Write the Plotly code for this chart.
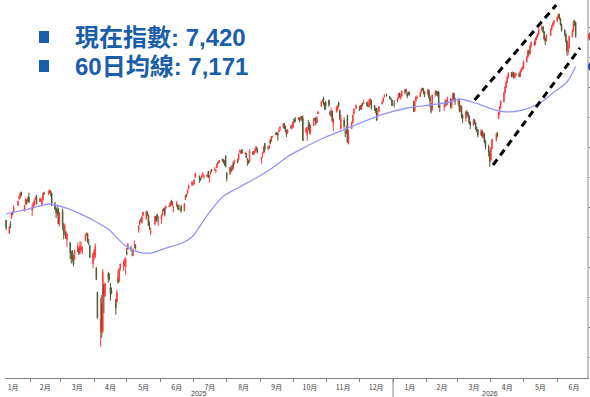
import pandas as pd
import plotly.graph_objects as go

# ---- daily index candles (trading days from 2025-01-10) ----
opens = [
    # 2025-01
    5890, 5782, 5859, 5905, 5950, 5963, 6015, 6068, 6076, 6121, 5970, 6026, 6057, 6050, 6082,
    # 2025-02
    5969, 5990, 6021, 6072, 6083, 6046, 6050, 6020, 6060, 6116, 6121, 6118, 6134, 6115, 6026, 5983, 5971, 5981, 5856,
    # 2025-03
    5969, 5812, 5782, 5787, 5727, 5705, 5604, 5624, 5595, 5563, 5627, 5655, 5615, 5646, 5630, 5718, 5772, 5781, 5695, 5679, 5528,
    # 2025-04
    5597, 5581, 5492, 5292, 4953, 5193, 4966, 5353, 5256, 5441, 5412, 5335, 5306, 5232, 5207, 5410, 5382, 5489, 5529, 5508, 5499,
    # 2025-05
    5626, 5645, 5655, 5607, 5621, 5663, 5680, 5807, 5854, 5895, 5870, 5929, 5902, 5958, 5928, 5842, 5782, 5854, 5918, 5939, 5903,
    # 2025-06
    5897, 5938, 5979, 5985, 5987, 6005, 6009, 6049, 6010, 5962, 6005, 6012, 5985, 6004, 5970, 6062, 6104, 6112, 6151, 6193,
    # 2025-07
    6187, 6193, 6247, 6257, 6240, 6247, 6270, 6256, 6255, 6296, 6250, 6272, 6313, 6305, 6306, 6326, 6369, 6371, 6398, 6394, 6377, 6427,
    # 2025-08
    6286, 6272, 6330, 6309, 6370, 6359, 6390, 6398, 6460, 6451, 6478, 6446, 6445, 6403, 6390, 6381, 6455, 6437, 6455, 6486, 6490,
    # 2025-09
    6401, 6445, 6456, 6530, 6499, 6498, 6561, 6546, 6582, 6603, 6620, 6612, 6626, 6657, 6662, 6695, 6674, 6637, 6614, 6666, 6658,
    # 2025-10
    6670, 6732, 6722, 6735, 6743, 6731, 6754, 6740, 6620, 6597, 6678, 6690, 6624, 6676, 6736, 6741, 6701, 6775, 6839, 6882, 6904, 6867, 6878,
    # 2025-11
    6890, 6786, 6756, 6801, 6690, 6790, 6809, 6870, 6807, 6656, 6722, 6628, 6619, 6760, 6539, 6653, 6701, 6773, 6822,
    # 2025-12
    6813, 6830, 6815, 6866, 6866, 6873, 6844, 6840, 6867, 6889, 6846, 6812, 6823, 6775, 6800, 6858, 6878, 6918, 6932, 6920, 6905, 6892,
    # 2026-01
    6860, 6880, 6904, 6950, 6910, 6925, 6950, 6975, 6950, 6950, 6955, 6880, 6800, 6885, 6910, 6920, 6955, 6985, 6980, 6960,
    # 2026-02
    6945, 6970, 6915, 6860, 6810, 6930, 6960, 6950, 6960, 6840, 6840, 6845, 6880, 6860, 6900, 6840, 6895, 6945, 6905,
    # 2026-03
    6870, 6880, 6815, 6835, 6765, 6740, 6790, 6780, 6760, 6705, 6685, 6725, 6700, 6650, 6640, 6600, 6635, 6590, 6610, 6545, 6505, 6455,
    # 2026-04
    6390, 6490, 6560, 6610, 6740, 6780, 6830, 6880, 6950, 7000, 7040, 7080, 7115, 7090, 7120, 7080, 7100, 7115, 7090, 7130, 7150,
    # 2026-05
    7160, 7210, 7250, 7300, 7280, 7340, 7370, 7360, 7400, 7420, 7440, 7480, 7500, 7460, 7400, 7385, 7430, 7480, 7510, 7530,
    # 2026-06
    7550, 7580, 7600, 7570, 7520, 7475, 7440, 7380, 7290, 7330, 7420, 7470, 7545, 7535,
]
highs = [
    5891, 5838, 5882, 5960, 5964, 6014, 6052, 6100, 6119, 6128, 6018, 6070, 6063, 6087, 6121,
    6023, 6042, 6062, 6085, 6101, 6074, 6077, 6064, 6118, 6127, 6130, 6147, 6134, 6119, 6043, 5992, 6009, 5994, 5959,
    5987, 5866, 5860, 5802, 5783, 5706, 5636, 5642, 5597, 5645, 5704, 5656, 5716, 5711, 5670, 5776, 5787, 5784, 5733, 5685, 5620,
    5650, 5696, 5500, 5292, 5246, 5267, 5481, 5353, 5369, 5460, 5450, 5367, 5328, 5232, 5309, 5470, 5490, 5528, 5553, 5571, 5581,
    5658, 5700, 5677, 5649, 5655, 5721, 5691, 5845, 5892, 5906, 5925, 5959, 5969, 5964, 5939, 5878, 5829, 5924, 5929, 5944, 5922,
    5937, 5982, 5991, 5999, 6017, 6022, 6044, 6060, 6046, 6008, 6051, 6024, 6018, 6019, 6033, 6102, 6109, 6146, 6188, 6216,
    6210, 6228, 6285, 6263, 6242, 6270, 6290, 6266, 6271, 6302, 6264, 6300, 6316, 6336, 6316, 6360, 6381, 6390, 6402, 6397, 6389, 6428,
    6288, 6330, 6343, 6353, 6379, 6395, 6405, 6446, 6480, 6473, 6482, 6460, 6450, 6405, 6392, 6481, 6466, 6468, 6489, 6508, 6493,
    6416, 6460, 6502, 6533, 6507, 6513, 6555, 6592, 6593, 6619, 6626, 6624, 6657, 6672, 6698, 6698, 6676, 6639, 6650, 6681, 6689,
    6716, 6738, 6750, 6749, 6746, 6754, 6755, 6764, 6668, 6665, 6724, 6707, 6686, 6741, 6744, 6752, 6758, 6802, 6882, 6896, 6920, 6872, 6882,
    6894, 6804, 6828, 6801, 6741, 6838, 6849, 6879, 6810, 6775, 6746, 6653, 6677, 6771, 6643, 6714, 6768, 6826, 6850,
    6843, 6850, 6862, 6866, 6895, 6880, 6860, 6900, 6904, 6895, 6850, 6826, 6825, 6801, 6840, 6880, 6912, 6937, 6945, 6925, 6910, 6895,
    6890, 6912, 6950, 6952, 6940, 6970, 6985, 6988, 6955, 6965, 6960, 6885, 6890, 6925, 6930, 6958, 6990, 6995, 6990, 6965,
    6985, 6980, 6930, 6870, 6940, 6975, 6970, 6965, 6965, 6870, 6860, 6900, 6890, 6920, 6905, 6900, 6955, 6950, 6910,
    6905, 6890, 6850, 6845, 6775, 6800, 6810, 6790, 6765, 6715, 6735, 6730, 6705, 6670, 6650, 6650, 6640, 6625, 6615, 6560, 6520, 6470,
    6500, 6570, 6620, 6625, 6790, 6840, 6890, 6960, 7010, 7050, 7090, 7125, 7125, 7130, 7125, 7110, 7120, 7120, 7140, 7160, 7175,
    7220, 7260, 7310, 7310, 7350, 7380, 7385, 7410, 7430, 7450, 7490, 7515, 7505, 7465, 7410, 7440, 7490, 7520, 7540, 7560,
    7590, 7615, 7610, 7575, 7530, 7480, 7450, 7390, 7345, 7430, 7480, 7555, 7560, 7545,
]
lows = [
    5809, 5773, 5822, 5905, 5935, 5960, 6007, 6061, 6074, 6089, 5962, 6016, 6018, 6042, 6031,
    5924, 5990, 6007, 6061, 6020, 6044, 6042, 6003, 6052, 6100, 6099, 6111, 6089, 6009, 5977, 5908, 5932, 5858, 5837,
    5810, 5732, 5762, 5733, 5667, 5565, 5529, 5546, 5505, 5563, 5625, 5598, 5614, 5632, 5603, 5719, 5760, 5701, 5685, 5572, 5489,
    5558, 5578, 5391, 5070, 4835, 4910, 4948, 5115, 5251, 5369, 5386, 5220, 5273, 5102, 5207, 5360, 5371, 5464, 5468, 5506, 5434,
    5598, 5642, 5629, 5590, 5590, 5656, 5646, 5786, 5853, 5876, 5862, 5925, 5896, 5925, 5839, 5808, 5767, 5854, 5877, 5874, 5843,
    5861, 5929, 5966, 5921, 5987, 6000, 6003, 6014, 6003, 5963, 6003, 5982, 5971, 5953, 5964, 6060, 6081, 6108, 6148, 6174,
    6177, 6188, 6245, 6201, 6218, 6240, 6252, 6234, 6249, 6244, 6202, 6266, 6291, 6304, 6282, 6326, 6360, 6368, 6376, 6361, 6343, 6329,
    6213, 6272, 6290, 6301, 6314, 6359, 6364, 6385, 6452, 6441, 6441, 6437, 6408, 6344, 6360, 6371, 6438, 6431, 6451, 6470, 6444,
    6361, 6411, 6446, 6454, 6475, 6484, 6520, 6546, 6579, 6602, 6598, 6552, 6626, 6633, 6655, 6650, 6623, 6583, 6614, 6648, 6648,
    6661, 6698, 6706, 6725, 6705, 6732, 6716, 6551, 6620, 6552, 6640, 6610, 6604, 6676, 6720, 6681, 6701, 6775, 6839, 6870, 6852, 6807, 6812,
    6834, 6761, 6750, 6706, 6632, 6790, 6802, 6830, 6724, 6646, 6652, 6581, 6607, 6533, 6521, 6652, 6697, 6773, 6814,
    6800, 6810, 6810, 6840, 6860, 6838, 6830, 6830, 6850, 6810, 6800, 6780, 6721, 6760, 6790, 6855, 6875, 6912, 6920, 6899, 6890, 6842,
    6830, 6870, 6900, 6910, 6895, 6920, 6940, 6955, 6905, 6930, 6930, 6790, 6792, 6880, 6898, 6915, 6950, 6965, 6940, 6915,
    6930, 6900, 6830, 6780, 6800, 6920, 6930, 6920, 6825, 6790, 6800, 6830, 6845, 6850, 6820, 6820, 6880, 6895, 6850,
    6840, 6790, 6790, 6740, 6700, 6710, 6760, 6740, 6690, 6650, 6675, 6690, 6640, 6620, 6580, 6590, 6575, 6570, 6530, 6480, 6420, 6335,
    6380, 6480, 6545, 6580, 6735, 6770, 6820, 6870, 6940, 6990, 7030, 7070, 7080, 7080, 7070, 7070, 7090, 7080, 7085, 7120, 7140,
    7150, 7200, 7240, 7260, 7270, 7330, 7340, 7350, 7390, 7410, 7430, 7470, 7450, 7390, 7350, 7380, 7425, 7470, 7500, 7520,
    7540, 7570, 7560, 7510, 7460, 7420, 7370, 7260, 7265, 7320, 7410, 7460, 7510, 7410,
]
closes = [
    5827, 5836, 5843, 5950, 5937, 5997, 6049, 6086, 6119, 6101, 6012, 6068, 6039, 6071, 6041,
    5995, 6038, 6061, 6084, 6026, 6066, 6069, 6052, 6115, 6115, 6130, 6144, 6118, 6013, 5983, 5955, 5956, 5862, 5955,
    5850, 5778, 5843, 5739, 5770, 5615, 5572, 5599, 5522, 5639, 5675, 5615, 5675, 5663, 5668, 5768, 5777, 5712, 5693, 5581, 5612,
    5633, 5671, 5397, 5074, 5062, 4983, 5457, 5268, 5363, 5406, 5397, 5276, 5283, 5158, 5288, 5376, 5485, 5525, 5529, 5561, 5569,
    5604, 5687, 5650, 5607, 5631, 5664, 5660, 5844, 5887, 5893, 5917, 5958, 5964, 5940, 5845, 5842, 5803, 5922, 5889, 5912, 5912,
    5936, 5970, 5971, 5939, 6000, 6006, 6039, 6022, 6045, 5977, 6033, 5983, 5981, 5968, 6025, 6092, 6092, 6141, 6173, 6205,
    6198, 6227, 6279, 6230, 6226, 6263, 6280, 6260, 6269, 6244, 6264, 6297, 6297, 6306, 6310, 6359, 6363, 6389, 6390, 6371, 6363, 6339,
    6238, 6330, 6299, 6345, 6340, 6389, 6373, 6446, 6467, 6469, 6450, 6449, 6411, 6396, 6370, 6467, 6439, 6466, 6481, 6502, 6460,
    6416, 6448, 6502, 6482, 6495, 6513, 6532, 6587, 6584, 6615, 6607, 6600, 6632, 6664, 6694, 6657, 6638, 6605, 6644, 6661, 6688,
    6711, 6715, 6716, 6740, 6715, 6754, 6735, 6553, 6655, 6644, 6671, 6629, 6664, 6735, 6735, 6699, 6738, 6792, 6875, 6891, 6891, 6822, 6840,
    6852, 6772, 6796, 6720, 6729, 6832, 6847, 6851, 6737, 6734, 6672, 6617, 6642, 6539, 6603, 6705, 6766, 6813, 6849,
    6812, 6829, 6850, 6857, 6870, 6846, 6840, 6887, 6901, 6827, 6816, 6800, 6721, 6775, 6835, 6878, 6910, 6932, 6930, 6906, 6896, 6845,
    6858, 6902, 6944, 6920, 6921, 6966, 6977, 6963, 6926, 6944, 6940, 6797, 6876, 6913, 6916, 6950, 6979, 6978, 6969, 6939,
    6976, 6917, 6883, 6798, 6932, 6964, 6942, 6941, 6833, 6836, 6843, 6881, 6861, 6910, 6837, 6890, 6946, 6908, 6878,
    6885, 6810, 6840, 6760, 6735, 6790, 6780, 6760, 6700, 6680, 6720, 6700, 6650, 6640, 6600, 6630, 6590, 6610, 6540, 6500, 6460, 6380,
    6490, 6560, 6610, 6600, 6780, 6830, 6880, 6950, 7000, 7040, 7080, 7110, 7090, 7120, 7080, 7100, 7110, 7090, 7130, 7150, 7160,
    7210, 7250, 7300, 7280, 7340, 7370, 7360, 7400, 7420, 7440, 7480, 7500, 7460, 7400, 7380, 7430, 7480, 7510, 7530, 7550,
    7580, 7600, 7570, 7520, 7470, 7440, 7380, 7300, 7330, 7420, 7470, 7540, 7530, 7420,
]
market_holidays = [
    "2025-01-20", "2025-02-17", "2025-04-18", "2025-05-26", "2025-06-19", "2025-07-04",
    "2025-09-01", "2025-11-27", "2025-12-25", "2026-01-01", "2026-01-19", "2026-02-16",
    "2026-04-03", "2026-05-25", "2026-06-19",
]

# ---- 60-day moving average ----
ma_dates = [
    "2025-01-10", "2025-01-30", "2025-02-19", "2025-03-06", "2025-03-20", "2025-04-03",
    "2025-04-15", "2025-04-30", "2025-05-15", "2025-05-24", "2025-06-06", "2025-06-21",
    "2025-06-30", "2025-07-13", "2025-07-28", "2025-08-13", "2025-08-28", "2025-09-12",
    "2025-09-26", "2025-10-08", "2025-10-29", "2025-11-23", "2025-12-21", "2026-01-14",
    "2026-02-04", "2026-02-22", "2026-03-03", "2026-03-15", "2026-03-28", "2026-04-09",
    "2026-04-16", "2026-04-30", "2026-05-16", "2026-05-28", "2026-06-10", "2026-06-18",
]
ma60 = [
    5942, 5983, 6025, 5992, 5940, 5875,
    5808, 5675, 5617, 5617, 5658, 5700,
    5750, 5917, 6083, 6167, 6242, 6325,
    6420, 6480, 6575, 6667, 6767, 6825,
    6850, 6875, 6900, 6875, 6833, 6800,
    6792, 6808, 6867, 6950, 7042, 7171,
]

# ---- trend channel ----
upper_dates = ["2026-03-17", "2026-05-31"]
upper_vals = [6892, 7683]
lower_dates = ["2026-04-03", "2026-06-22"]
lower_vals = [6350, 7325]

UP = "#ff3a3a"
DOWN = "#4f5a32"
BLUE = "#1a5da8"

dates = pd.bdate_range("2025-01-10", periods=len(closes), freq="C", holidays=market_holidays)

# plot area in pixels: x 5..587, y 0..378
PL, PR, PB = 5, 587, 378


def px_x(p):
    return (p - PL) / (PR - PL)


def px_y(p):
    return (PB - p) / PB


fig = go.Figure()
fig.add_trace(go.Candlestick(
    x=dates, open=opens, high=highs, low=lows, close=closes,
    increasing=dict(line=dict(color=UP, width=1), fillcolor=UP),
    decreasing=dict(line=dict(color=DOWN, width=1), fillcolor=DOWN),
    whiskerwidth=0, hoverinfo="skip",
))
fig.add_trace(go.Scatter(
    x=ma_dates, y=ma60, mode="lines",
    line=dict(color="#9494fa", width=1.3, shape="spline", smoothing=0.8),
    hoverinfo="skip",
))
for dx, dy in ((upper_dates, upper_vals), (lower_dates, lower_vals)):
    fig.add_trace(go.Scatter(
        x=dx, y=dy, mode="lines",
        line=dict(color="black", width=3, dash="7px,5px"),
        hoverinfo="skip",
    ))

x_start = pd.Timestamp("2025-01-09")
x_end = pd.Timestamp("2026-06-28 10:00")
year_split = pd.Timestamp("2026-01-01")

fig.update_layout(
    width=590, height=397,
    margin=dict(l=PL, r=590 - PR, t=0, b=397 - PB),
    paper_bgcolor="white", plot_bgcolor="white",
    showlegend=False,
    xaxis=dict(
        type="date", range=[x_start, x_end], rangeslider=dict(visible=False),
        showgrid=False, zeroline=False,
        showline=True, linecolor="#808080", linewidth=1,
        ticks="outside", ticklen=3, tickcolor="#808080",
        dtick="M1", tick0="2025-01-01", ticklabelmode="period",
        tickformat="%-m月",
        tickfont=dict(size=7, color="#404040", family="Noto Sans CJK TC"),
    ),
    yaxis=dict(
        side="right", range=[4575, 7725],
        showgrid=False, zeroline=False,
        showline=True, linecolor="#c4c4c4", linewidth=2,
        ticks="outside", ticklen=3, tickcolor="#404040",
        dtick=500, tick0=5000, showticklabels=False,
        minor=dict(dtick=250, ticks="outside", ticklen=2, tickcolor="#909090"),
    ),
)

# year labels under each span, with a divider at the year boundary
for label, a, b in (("2025", x_start, year_split), ("2026", year_split, x_end)):
    fig.add_annotation(
        x=a + (b - a) / 2, y=px_y(393), xref="x", yref="paper",
        text=label, showarrow=False, yanchor="middle",
        font=dict(size=7, color="#404040", family="Liberation Sans"),
    )
fig.add_shape(type="line", xref="x", yref="paper",
              x0=year_split, x1=year_split, y0=0, y1=px_y(397),
              line=dict(color="#808080", width=1))

# value markers on the right edge
for val, col in ((closes[-1], "#d8323a"), (ma60[-1], "#3342c4")):
    fig.add_shape(type="circle", xref="paper", yref="y",
                  xsizemode="pixel", ysizemode="pixel",
                  xanchor=px_x(594), yanchor=val,
                  x0=-6, x1=6, y0=-6, y1=6,
                  fillcolor=col, line=dict(width=0))

# headline legend
legend_rows = (
    (37, f"現在指數: {closes[-1]:,}"),
    (66, f"60日均線: {ma60[-1]:,}"),
)
for cy, txt in legend_rows:
    fig.add_shape(type="rect", xref="paper", yref="paper",
                  x0=px_x(39), x1=px_x(49), y0=px_y(cy - 6), y1=px_y(cy + 6),
                  fillcolor=BLUE, line=dict(width=0))
    fig.add_annotation(
        x=px_x(73), y=px_y(cy), xref="paper", yref="paper",
        text=f"<b>{txt}</b>", showarrow=False, xanchor="left", yanchor="middle",
        font=dict(size=24, color=BLUE, family="Liberation Sans, Noto Sans CJK TC"),
    )

fig.write_html("out.html")
